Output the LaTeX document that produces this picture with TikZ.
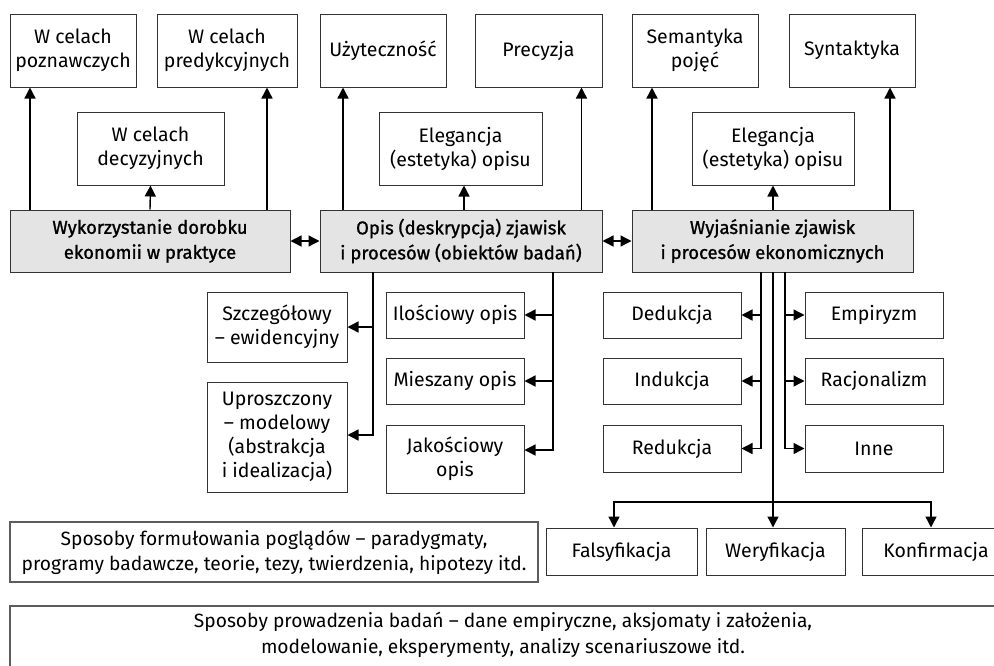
\documentclass[tikz,border=0pt]{standalone}
\usepackage{fontspec}
\setmainfont{Fira Sans}
\newfontfamily\medfont[FakeBold=1.2]{Fira Sans}
\usetikzlibrary{arrows.meta}
\definecolor{boxgray}{HTML}{E4E4E4}
\definecolor{edge}{HTML}{333333}
\begin{document}
\begin{tikzpicture}[x=1pt,y=-1pt,
  base/.style={draw=edge, line width=1pt, inner sep=0pt, align=center,
    font=\fontsize{19.5}{24}\selectfont},
  plain/.style={base, minimum width=#1},
  hbox/.style={base, fill=boxgray, minimum width=#1, minimum height=62pt,
    font=\fontsize{18.5}{25}\selectfont\medfont},
  wide/.style={base, draw=edge!80, line width=1.4pt, minimum width=#1,
    font=\fontsize{19.2}{25}\selectfont},
  arr/.style={line width=1.4pt, -{Triangle[length=11pt,width=11pt]}},
  dbl/.style={line width=1.4pt, {Triangle[length=11pt,width=11pt]}-{Triangle[length=11pt,width=11pt]}}
]
\useasboundingbox (0,0) rectangle (994,665);
\clip (0,0) rectangle (994,665);

% top row
\node[plain=126, minimum height=73] (pozn) at (73,50.5) {W celach\\poznawczych};
\node[plain=140, minimum height=73] (pred) at (227,50.5) {W celach\\predykcyjnych};
\node[plain=126, minimum height=73] (uzyt) at (383,50.5) {Użyteczność};
\node[plain=127, minimum height=73] (prec) at (538.5,50.5) {Precyzja};
\node[plain=126, minimum height=73] (sem) at (695,50.5) {Semantyka\\pojęć};
\node[plain=126, minimum height=73] (syn) at (852,50.5) {Syntaktyka};

% second row
\node[plain=147, minimum height=73] (dec) at (150.5,148.5) {W celach\\decyzyjnych};
\node[plain=163, minimum height=73] (el1) at (460.5,148.5) {Elegancja\\(estetyka) opisu};
\node[plain=162, minimum height=73] (el2) at (773,148.5) {Elegancja\\(estetyka) opisu};

% main grey boxes
\node[hbox=280] (g1) at (150,241) {Wykorzystanie dorobku\\ekonomii w praktyce};
\node[hbox=282] (g2) at (461,241) {Opis (deskrypcja) zjawisk\\i procesów (obiektów badań)};
\node[hbox=281] (g3) at (772.5,241) {Wyjaśnianie zjawisk\\i procesów ekonomicznych};

% description branches
\node[plain=140, minimum height=70] (szcz) at (277,327) {Szczegółowy\\– ewidencyjny};
\node[plain=140, minimum height=110] (upr) at (277,437) {Uproszczony\\– modelowy\\(abstrakcja\\i idealizacja)};
\node[plain=138, minimum height=46] (ilo) at (455,315) {Ilościowy opis};
\node[plain=138, minimum height=46] (mie) at (455,381) {Mieszany opis};
\node[plain=138, minimum height=68] (jak) at (455,459) {Jakościowy\\opis};

% explanation branches
\node[plain=138, minimum height=46] (ded) at (672,315) {Dedukcja};
\node[plain=138, minimum height=46] (ind) at (672,381) {Indukcja};
\node[plain=138, minimum height=47] (red) at (672,448.5) {Redukcja};
\node[plain=138, minimum height=46] (emp) at (874,315) {Empiryzm};
\node[plain=138, minimum height=46] (rac) at (874,381) {Racjonalizm};
\node[plain=138, minimum height=47] (inn) at (874,448.5) {Inne};

\node[plain=151, minimum height=47] (fal) at (621.5,551.5) {Falsyfikacja};
\node[plain=139, minimum height=47] (wer) at (775.5,551.5) {Weryfikacja};
\node[plain=148, minimum height=47] (kon) at (936,551.5) {Konfirmacja};

% bottom boxes
\node[wide=528, minimum height=60] (sp1) at (274,552) {Sposoby formułowania poglądów – paradygmaty,\\programy badawcze, teorie, tezy, twierdzenia, hipotezy itd.};
\node[wide=1000, minimum height=84] (sp2) at (510,648) {};
\node[font=\fontsize{19.2}{26}\selectfont, align=center, inner sep=0pt] (sp2t) at (503,634.5) {Sposoby prowadzenia badań – dane empiryczne, aksjomaty i założenia,\\modelowanie, eksperymenty, analizy scenariuszowe itd.};

% arrows from the grey boxes upwards
\draw[arr] (g1.north -| pozn.south) ++(-43,0) coordinate (a1) -- (a1 |- pozn.south);
\draw[arr] (g1.north) -- (dec.south);
\draw[arr] (g1.north -| pred.south) ++(40,0) coordinate (a2) -- (a2 |- pred.south);
\draw[arr] (g2.north -| uzyt.south) ++(-40,0) coordinate (a3) -- (a3 |- uzyt.south);
\draw[arr] (g2.north -| el1.south) ++(3.5,0) coordinate (a4) -- (a4 |- el1.south);
\draw[arr] (g2.north -| prec.south) ++(43,0) coordinate (a5) -- (a5 |- prec.south);
\draw[arr] (g3.north -| sem.south) ++(-43,0) coordinate (a6) -- (a6 |- sem.south);
\draw[arr] (g3.north -| el2.south) coordinate (a7) -- (a7 |- el2.south);
\draw[arr] (g3.north -| syn.south) ++(38,0) coordinate (a8) -- (a8 |- syn.south);

% links between grey boxes
\draw[dbl] (g1.east) -- (g2.west);
\draw[dbl] (g2.east) -- (g3.west);

% description branches
\coordinate (dl) at (373,272);
\coordinate (dr) at (553,272);
\coordinate (yu) at (0,435);
\coordinate (yj) at (0,450);
\draw[arr] (dl) |- (szcz.east);
\draw[arr] (dl) |- (upr.east |- yu);
\draw[arr] (dr) |- (ilo.east);
\draw[arr] (dr) |- (mie.east);
\draw[arr] (dr) |- (jak.east |- yj);

% explanation branches
\coordinate (el) at (761,272);
\coordinate (ec) at (773,272);
\coordinate (er) at (785,272);
\draw[arr] (el) |- (ded.east);
\draw[arr] (el) |- (ind.east);
\draw[arr] (el) |- (red.east);
\draw[arr] (er) |- (emp.west);
\draw[arr] (er) |- (rac.west);
\draw[arr] (er) |- (inn.west);

\coordinate (ej) at (773,502);
\coordinate (fx) at (614,0);
\coordinate (kx) at (931,0);
\draw[line width=1.4pt] (ec) -- (ej);
\draw[arr] (ej) -- (ej |- wer.north);
\draw[arr] (ej) -| (fal.north -| fx);
\draw[arr] (ej) -| (kon.north -| kx);
\end{tikzpicture}
\end{document}
